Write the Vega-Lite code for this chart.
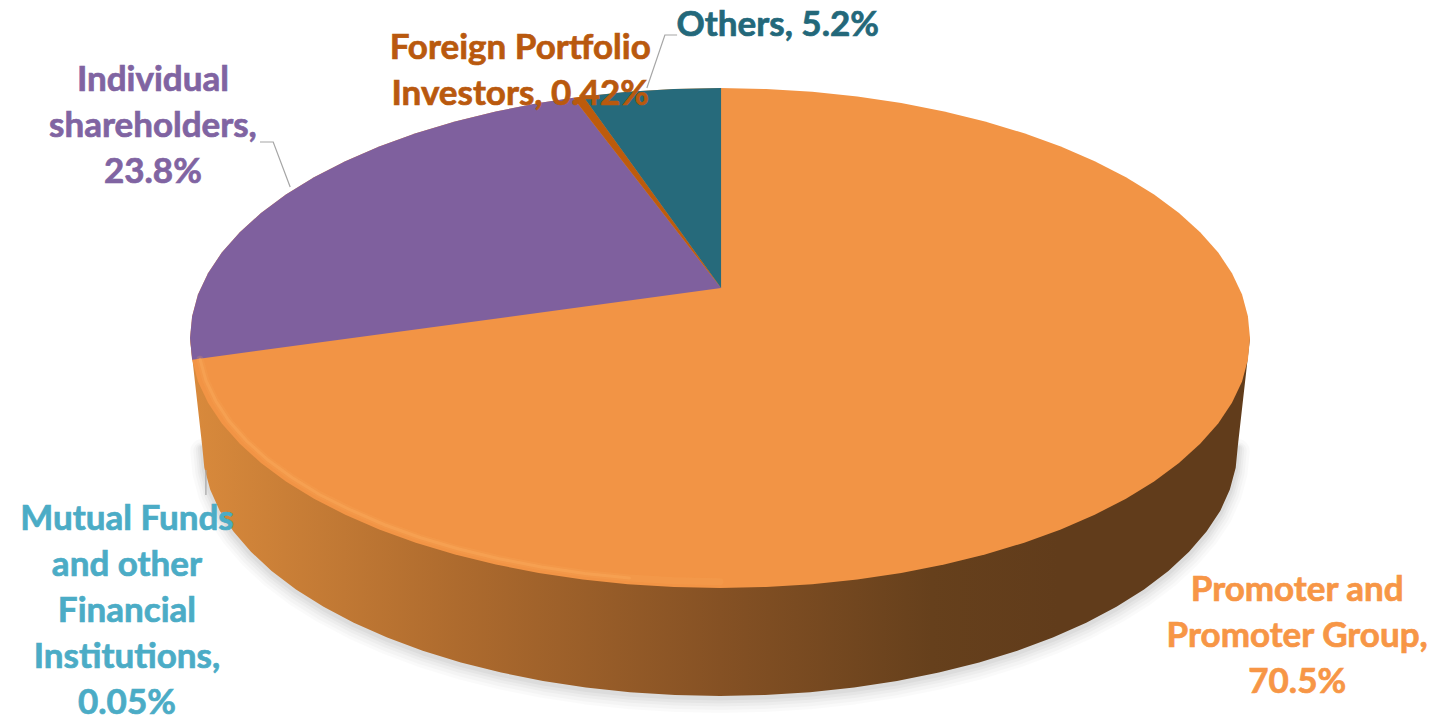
{"$schema":"https://vega.github.io/schema/vega-lite/v6.json","width":1437,"height":717,"padding":0,"autosize":"none","background":"white","config":{"view":{"stroke":null}},
"datasets":{
"top":[{"i":0,"u":1000,"v":0},{"i":1,"u":996,"v":87},{"i":2,"u":985,"v":174},{"i":3,"u":966,"v":259},{"i":4,"u":940,"v":342},{"i":5,"u":906,"v":423},{"i":6,"u":866,"v":500},{"i":7,"u":819,"v":574},{"i":8,"u":766,"v":643},{"i":9,"u":707,"v":707},{"i":10,"u":643,"v":766},{"i":11,"u":574,"v":819},{"i":12,"u":500,"v":866},{"i":13,"u":423,"v":906},{"i":14,"u":342,"v":940},{"i":15,"u":259,"v":966},{"i":16,"u":174,"v":985},{"i":17,"u":87,"v":996},{"i":18,"u":0,"v":1000},{"i":19,"u":-87,"v":996},{"i":20,"u":-174,"v":985},{"i":21,"u":-259,"v":966},{"i":22,"u":-342,"v":940},{"i":23,"u":-423,"v":906},{"i":24,"u":-500,"v":866},{"i":25,"u":-574,"v":819},{"i":26,"u":-643,"v":766},{"i":27,"u":-707,"v":707},{"i":28,"u":-766,"v":643},{"i":29,"u":-819,"v":574},{"i":30,"u":-866,"v":500},{"i":31,"u":-906,"v":423},{"i":32,"u":-940,"v":342},{"i":33,"u":-966,"v":259},{"i":34,"u":-985,"v":174},{"i":35,"u":-996,"v":87},{"i":36,"u":-1000,"v":0},{"i":37,"u":-996,"v":-87},{"i":38,"u":-985,"v":-174},{"i":39,"u":-966,"v":-259},{"i":40,"u":-940,"v":-342},{"i":41,"u":-906,"v":-423},{"i":42,"u":-866,"v":-500},{"i":43,"u":-819,"v":-574},{"i":44,"u":-766,"v":-643},{"i":45,"u":-707,"v":-707},{"i":46,"u":-643,"v":-766},{"i":47,"u":-574,"v":-819},{"i":48,"u":-500,"v":-866},{"i":49,"u":-423,"v":-906},{"i":50,"u":-342,"v":-940},{"i":51,"u":-259,"v":-966},{"i":52,"u":-174,"v":-985},{"i":53,"u":-87,"v":-996},{"i":54,"u":0,"v":-1000},{"i":55,"u":87,"v":-996},{"i":56,"u":174,"v":-985},{"i":57,"u":259,"v":-966},{"i":58,"u":342,"v":-940},{"i":59,"u":423,"v":-906},{"i":60,"u":500,"v":-866},{"i":61,"u":574,"v":-819},{"i":62,"u":643,"v":-766},{"i":63,"u":707,"v":-707},{"i":64,"u":766,"v":-643},{"i":65,"u":819,"v":-574},{"i":66,"u":866,"v":-500},{"i":67,"u":906,"v":-423},{"i":68,"u":940,"v":-342},{"i":69,"u":966,"v":-259},{"i":70,"u":985,"v":-174},{"i":71,"u":996,"v":-87}],
"body":[{"i":0,"u":-1000,"v":0},{"i":1,"u":-977,"v":-432},{"i":2,"u":-973,"v":-519},{"i":3,"u":-962,"v":-606},{"i":4,"u":-944,"v":-691},{"i":5,"u":-918,"v":-774},{"i":6,"u":-885,"v":-855},{"i":7,"u":-846,"v":-932},{"i":8,"u":-800,"v":-1006},{"i":9,"u":-748,"v":-1075},{"i":10,"u":-691,"v":-1139},{"i":11,"u":-628,"v":-1198},{"i":12,"u":-561,"v":-1251},{"i":13,"u":-489,"v":-1298},{"i":14,"u":-413,"v":-1338},{"i":15,"u":-334,"v":-1372},{"i":16,"u":-253,"v":-1398},{"i":17,"u":-170,"v":-1417},{"i":18,"u":-85,"v":-1428},{"i":19,"u":0,"v":-1432},{"i":20,"u":85,"v":-1428},{"i":21,"u":170,"v":-1417},{"i":22,"u":253,"v":-1398},{"i":23,"u":334,"v":-1372},{"i":24,"u":413,"v":-1338},{"i":25,"u":489,"v":-1298},{"i":26,"u":561,"v":-1251},{"i":27,"u":628,"v":-1198},{"i":28,"u":691,"v":-1139},{"i":29,"u":748,"v":-1075},{"i":30,"u":800,"v":-1006},{"i":31,"u":846,"v":-932},{"i":32,"u":885,"v":-855},{"i":33,"u":918,"v":-774},{"i":34,"u":944,"v":-691},{"i":35,"u":962,"v":-606},{"i":36,"u":973,"v":-519},{"i":37,"u":977,"v":-432},{"i":38,"u":1000,"v":0}],
"purple":[{"i":0,"u":2,"v":200},{"i":1,"u":-996,"v":-87},{"i":2,"u":-1000,"v":0},{"i":3,"u":-996,"v":87},{"i":4,"u":-985,"v":174},{"i":5,"u":-966,"v":259},{"i":6,"u":-940,"v":342},{"i":7,"u":-906,"v":423},{"i":8,"u":-866,"v":500},{"i":9,"u":-819,"v":574},{"i":10,"u":-766,"v":643},{"i":11,"u":-707,"v":707},{"i":12,"u":-643,"v":766},{"i":13,"u":-574,"v":819},{"i":14,"u":-500,"v":866},{"i":15,"u":-423,"v":906},{"i":16,"u":-342,"v":940},{"i":17,"u":-277,"v":961}],
"sliver":[{"i":0,"u":2,"v":200},{"i":1,"u":-277,"v":961},{"i":2,"u":-258,"v":966}],
"teal":[{"i":0,"u":2,"v":200},{"i":1,"u":-258,"v":966},{"i":2,"u":-174,"v":985},{"i":3,"u":-87,"v":996},{"i":4,"u":2,"v":1000}],
"bevel":[{"i":0,"u":-981,"v":-85},{"i":1,"u":-970,"v":-170},{"i":2,"u":-951,"v":-253},{"i":3,"u":-926,"v":-333},{"i":4,"u":-893,"v":-412},{"i":5,"u":-853,"v":-488},{"i":6,"u":-807,"v":-559},{"i":7,"u":-755,"v":-627},{"i":8,"u":-696,"v":-689},{"i":9,"u":-633,"v":-747},{"i":10,"u":-565,"v":-799},{"i":11,"u":-493,"v":-844},{"i":12,"u":-417,"v":-883},{"i":13,"u":-337,"v":-916},{"i":14,"u":-255,"v":-942},{"i":15,"u":-171,"v":-960},{"i":16,"u":-86,"v":-971},{"i":17,"u":0,"v":-975}],
"leaders":[{"g":"Others","i":0,"u":-138,"v":1000},{"g":"Others","i":1,"u":-104,"v":1212},{"g":"Others","i":2,"u":-81,"v":1212},{"g":"Individual","i":0,"u":-811,"v":604},{"g":"Individual","i":1,"u":-843,"v":784},{"g":"Individual","i":2,"u":-868,"v":784},{"g":"Mutual","i":0,"u":-970,"v":-528},{"g":"Mutual","i":1,"u":-970,"v":-628}],
"labels":[{"category":"Promoter and Promoter Group","share":70.5,"label":"Promoter and\nPromoter Group,\n70.5%","u":1089,"v":-1008},{"category":"Individual shareholders","share":23.8,"label":"Individual\nshareholders,\n23.8%","u":-1070,"v":1032},{"category":"Others","share":5.2,"label":"Others, 5.2%","u":109,"v":1252},{"category":"Foreign Portfolio Investors","share":0.42,"label":"Foreign Portfolio\nInvestors, 0.42%","u":-377,"v":1160},{"category":"Mutual Funds and other Financial Institutions","share":0.05,"label":"Mutual Funds\nand other\nFinancial\nInstitutions,\n0.05%","u":-1119,"v":-724}]},
"encoding":{"x":{"field":"u","type":"quantitative","axis":null,"scale":{"domain":[-1358.5,1352.8],"nice":false,"zero":false}},"y":{"field":"v","type":"quantitative","axis":null,"scale":{"domain":[-1516,1352],"nice":false,"zero":false}}},
"layer":[
{"data":{"name":"body"},"transform":[{"filter":"datum.i>=1 && datum.i<=37"}],"mark":{"type":"line","yOffset":5,"stroke":"#000000","strokeWidth":24,"strokeOpacity":0.018,"strokeJoin":"round","strokeCap":"round"},"encoding":{"order":{"field":"i"}}},
{"data":{"name":"body"},"transform":[{"filter":"datum.i>=1 && datum.i<=37"}],"mark":{"type":"line","yOffset":5,"stroke":"#000000","strokeWidth":18,"strokeOpacity":0.022,"strokeJoin":"round","strokeCap":"round"},"encoding":{"order":{"field":"i"}}},
{"data":{"name":"body"},"transform":[{"filter":"datum.i>=1 && datum.i<=37"}],"mark":{"type":"line","yOffset":4,"stroke":"#000000","strokeWidth":13,"strokeOpacity":0.026,"strokeJoin":"round","strokeCap":"round"},"encoding":{"order":{"field":"i"}}},
{"data":{"name":"body"},"transform":[{"filter":"datum.i>=1 && datum.i<=37"}],"mark":{"type":"line","yOffset":3,"stroke":"#000000","strokeWidth":9,"strokeOpacity":0.03,"strokeJoin":"round","strokeCap":"round"},"encoding":{"order":{"field":"i"}}},
{"data":{"name":"body"},"transform":[{"filter":"datum.i>=1 && datum.i<=37"}],"mark":{"type":"line","yOffset":2,"stroke":"#000000","strokeWidth":5,"strokeOpacity":0.035,"strokeJoin":"round","strokeCap":"round"},"encoding":{"order":{"field":"i"}}},
{"data":{"name":"body"},"mark":{"type":"line","strokeWidth":0,"fill":{"gradient":"linear","x1":0,"y1":0,"x2":1,"y2":0,"stops":[{"offset":0,"color":"#d98a3c"},{"offset":0.25,"color":"#ae6b2e"},{"offset":0.5,"color":"#855124"},{"offset":0.7,"color":"#66401c"},{"offset":0.82,"color":"#613c1b"},{"offset":1,"color":"#613c1b"}]}},"encoding":{"order":{"field":"i"}}},
{"data":{"name":"top"},"mark":{"type":"line","strokeWidth":0,"fill":"#f29445"},"encoding":{"order":{"field":"i"}}},
{"data":{"name":"purple"},"mark":{"type":"line","strokeWidth":0,"fill":"#7f609e"},"encoding":{"order":{"field":"i"}}},
{"data":{"name":"sliver"},"mark":{"type":"line","strokeWidth":0,"fill":"#bd5b0c"},"encoding":{"order":{"field":"i"}}},
{"data":{"name":"teal"},"mark":{"type":"line","strokeWidth":0,"fill":"#266a7b"},"encoding":{"order":{"field":"i"}}},
{"data":{"name":"bevel"},"mark":{"type":"line","stroke":"#fbab5c","strokeWidth":7,"strokeOpacity":0.2,"strokeCap":"round"},"encoding":{"order":{"field":"i"}}},
{"data":{"name":"bevel"},"transform":[{"filter":"datum.i<=15"}],"mark":{"type":"line","stroke":"#fbab5c","strokeWidth":3,"strokeOpacity":0.45,"strokeCap":"round"},"encoding":{"order":{"field":"i"}}},
{"data":{"name":"leaders"},"mark":{"type":"line","stroke":"#a6a6a6","strokeWidth":1.2},"encoding":{"detail":{"field":"g"},"order":{"field":"i"}}},
{"data":{"name":"labels"},"mark":{"type":"text","font":"Lato","fontWeight":"bold","fontSize":35,"lineHeight":46,"lineBreak":"\n","align":"center","baseline":"middle","strokeWidth":0.7},"encoding":{"text":{"field":"label"},"color":{"field":"category","type":"nominal","legend":null,"scale":{"domain":["Promoter and Promoter Group","Individual shareholders","Others","Foreign Portfolio Investors","Mutual Funds and other Financial Institutions"],"range":["#f79646","#8064a2","#23687a","#b9590e","#4bacc6"]}},"stroke":{"field":"category","type":"nominal","legend":null,"scale":{"domain":["Promoter and Promoter Group","Individual shareholders","Others","Foreign Portfolio Investors","Mutual Funds and other Financial Institutions"],"range":["#f79646","#8064a2","#23687a","#b9590e","#4bacc6"]}}}}
]}
